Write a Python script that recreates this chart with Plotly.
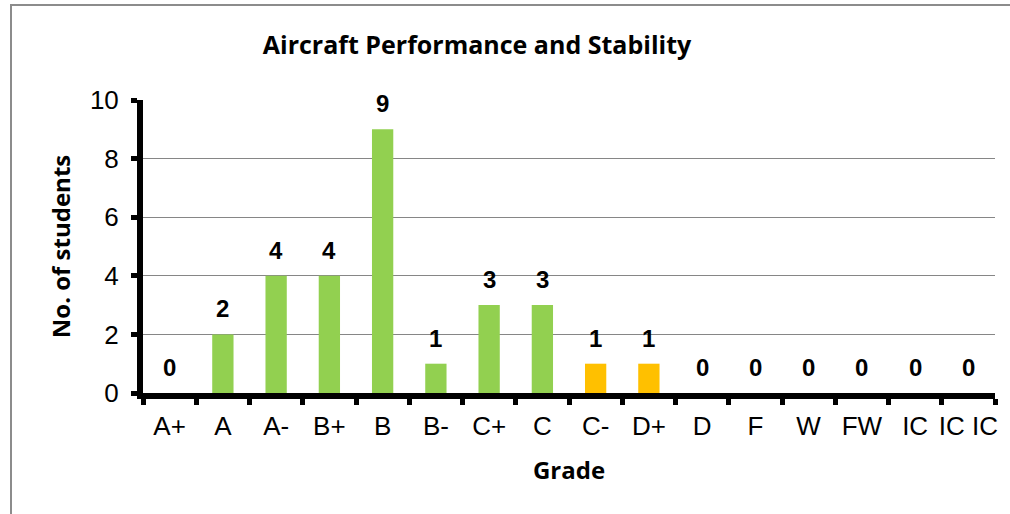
import plotly.graph_objects as go

grades = ["A+", "A", "A-", "B+", "B", "B-", "C+", "C", "C-", "D+",
          "D", "F", "W", "FW", "IC", "IC IC"]
students = [0, 2, 4, 4, 9, 1, 3, 3, 1, 1, 0, 0, 0, 0, 0, 0]
highlight = ["C-", "D+"]

GREEN = "#92D050"
ORANGE = "#FFC000"
bar_colors = [ORANGE if g in highlight else GREEN for g in grades]

TITLE_FONT = "Open Sans, Lato, sans-serif"
TICK_FONT = "Liberation Sans, Arial, sans-serif"

fig = go.Figure()
fig.add_trace(go.Bar(
    x=grades, y=students,
    marker=dict(color=bar_colors, line=dict(width=0)),
    width=0.4,
    hoverinfo="x+y",
))

for g, v in zip(grades, students):
    fig.add_annotation(
        x=g, y=v, text="<b>%d</b>" % v, showarrow=False,
        yanchor="bottom", yshift=10,
        font=dict(family=TICK_FONT, size=24, color="black"),
    )

fig.update_layout(
    width=1010, height=514,
    margin=dict(l=143, r=15, t=100, b=121),
    paper_bgcolor="white", plot_bgcolor="white",
    showlegend=False,
    title=dict(
        text="<b>Aircraft Performance and Stability</b>",
        font=dict(family=TITLE_FONT, size=25, color="black"),
        xref="container", yref="container",
        x=477 / 1010, xanchor="center",
        y=1 - 45 / 514, yanchor="middle",
    ),
    xaxis=dict(
        type="category",
        tickson="boundaries",
        tickangle=0,
        automargin=False,
        ticks="outside", ticklen=6, tickwidth=5, tickcolor="black",
        ticklabelstandoff=5,
        showline=True, linecolor="black", linewidth=6,
        showgrid=False, zeroline=False,
        tickfont=dict(family=TICK_FONT, size=26, color="black"),
        title=dict(text="<b>Grade</b>",
                   font=dict(family=TITLE_FONT, size=24, color="black"),
                   standoff=24),
    ),
    yaxis=dict(
        range=[0, 10], tickmode="linear", tick0=0, dtick=2,
        automargin=False,
        ticks="outside", ticklen=6, tickwidth=5, tickcolor="black",
        ticklabelstandoff=7,
        showline=True, linecolor="black", linewidth=6,
        showgrid=True, gridcolor="#868686", gridwidth=1,
        zeroline=False,
        tickfont=dict(family=TICK_FONT, size=26, color="black"),
        title=dict(text="<b>No. of students</b>",
                   font=dict(family=TITLE_FONT, size=24, color="black"),
                   standoff=14),
    ),
    shapes=[dict(
        type="rect", xref="paper", yref="paper",
        x0=(11 - 143) / 852, x1=1.2, y0=-0.8, y1=(393 - 5) / 293,
        line=dict(color="#8C8C8C", width=2), fillcolor="rgba(0,0,0,0)",
        layer="below",
    )],
)

fig.write_html(
    "out.html",
    config={"displayModeBar": False},
    post_script="document.body.style.margin='0';document.body.style.overflow='hidden';",
)
